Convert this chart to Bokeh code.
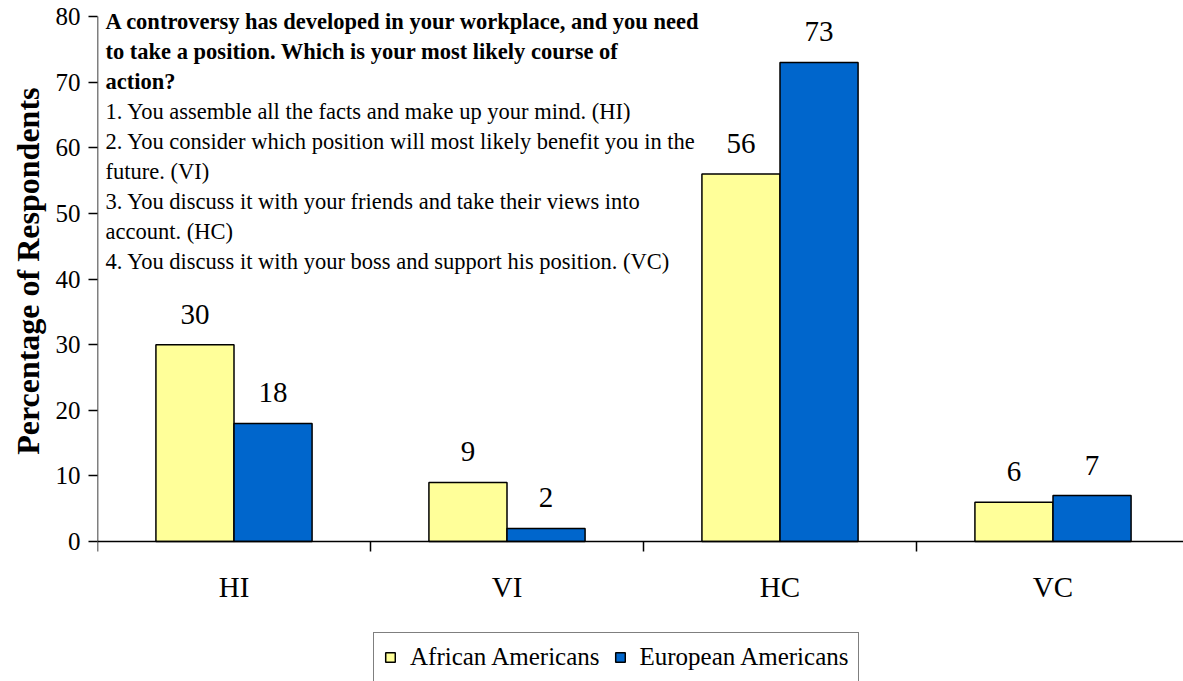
from bokeh.plotting import figure
from bokeh.models import (ColumnDataSource, Range1d, FixedTicker, Legend, LegendItem,
                          LabelSet, Label, Title)
from bokeh.transform import dodge
from bokeh.embed import file_html
from bokeh.resources import INLINE

categories = ["HI", "VI", "HC", "VC"]
african = [30, 9, 56, 6]
european = [18, 2, 73, 7]
y_ticks = [0, 10, 20, 30, 40, 50, 60, 70, 80]
series_names = ["African Americans", "European Americans"]
y_title = "Percentage of Respondents"
note_bold = [
    "A controversy has developed in your workplace, and you need",
    "to take a position. Which is your most likely course of",
    "action?",
]
note_plain = [
    "1. You assemble all the facts and make up your mind. (HI)",
    "2. You consider which position will most likely benefit you in the",
    "future. (VI)",
    "3. You discuss it with your friends and take their views into",
    "account. (HC)",
    "4. You discuss it with your boss and support his position. (VC)",
]

FONT = "Liberation Serif"
LEGEND_FONT = "'Liberation Serif', 'Times New Roman', serif"
YELLOW = "#FFFF99"
BLUE = "#0066CC"

src = ColumnDataSource(dict(
    x=list(range(len(categories))),
    af=african, eu=european,
    af_t=[str(v) for v in african],
    eu_t=[str(v) for v in european],
))

PX_PER_CAT = 273.0
PX_PER_UNIT = 525.0 / 80.0
FRAME_W = 1086
TOP_PAD = 16           # px above the 80 line (room for the note)
BOTTOM_PAD = 140       # px below the 0 line (axis labels + legend)
FRAME_H = 525 + TOP_PAD + BOTTOM_PAD
y_top = y_ticks[-1] + TOP_PAD / PX_PER_UNIT
y_bot = y_ticks[0] - BOTTOM_PAD / PX_PER_UNIT
p = figure(frame_width=FRAME_W, frame_height=FRAME_H,
           x_range=Range1d(-0.5, -0.5 + FRAME_W / PX_PER_CAT),
           y_range=Range1d(y_bot, y_top),
           output_backend="svg", toolbar_location=None,
           min_border_left=97, min_border_right=0, min_border_top=0,
           min_border_bottom=0)
p.outline_line_color = None
p.xgrid.visible = False
p.ygrid.visible = False
p.background_fill_color = "white"

# x axis drawn at y = 0: labels at category centres, ticks between categories
xa = p.xaxis[0]
xa.fixed_location = y_ticks[0]
xa.ticker = FixedTicker(ticks=list(range(len(categories))),
                        minor_ticks=[i - 0.5 for i in range(len(categories) + 1)])
xa.major_label_overrides = {i: c for i, c in enumerate(categories)}
xa.major_tick_out = 0
xa.major_tick_in = 0
xa.minor_tick_out = 10
xa.minor_tick_in = 0
xa.minor_tick_line_color = "black"
xa.minor_tick_line_width = 1.5
xa.axis_line_color = "black"
xa.axis_line_width = 1.5
xa.major_label_standoff = 19
xa.major_label_text_font = FONT
xa.major_label_text_font_size = "29px"
xa.major_label_text_color = "black"

ya = p.yaxis[0]
ya.ticker = FixedTicker(ticks=y_ticks)
ya.major_tick_out = 9
ya.major_tick_in = 0
ya.minor_tick_out = 0
ya.minor_tick_in = 0
ya.major_tick_line_color = "black"
ya.major_tick_line_width = 1.5
ya.axis_line_color = None
ya.major_label_standoff = 8
ya.major_label_text_font = FONT
ya.major_label_text_font_size = "25px"
ya.major_label_text_color = "black"

# y title placed as a left-side title so it can be centred on the 0..80 span
ytitle = Title(text=y_title, align="right", offset=87, standoff=14,
               text_font=FONT, text_font_style="bold", text_font_size="32px",
               text_color="black")
p.add_layout(ytitle, "left")

# y axis line only spans the tick range 0..80
p.segment(x0=[-0.5], y0=[y_ticks[0]], x1=[-0.5], y1=[y_ticks[-1]],
          line_color="black", line_width=1.5)

OFF = 0.143
W = 0.286
r1 = p.vbar(x=dodge("x", -OFF, range=p.x_range), top="af", width=W, bottom=0,
            source=src, fill_color=YELLOW, line_color="black", line_width=1.5)
r2 = p.vbar(x=dodge("x", OFF, range=p.x_range), top="eu", width=W, bottom=0,
            source=src, fill_color=BLUE, line_color="black", line_width=1.5)

for field, txt, off in (("af", "af_t", -OFF), ("eu", "eu_t", OFF)):
    p.add_layout(LabelSet(x=dodge("x", off, range=p.x_range), y=field, text=txt,
                          source=src, y_offset=21, text_align="center",
                          text_baseline="alphabetic", text_font=FONT,
                          text_font_size="29px", text_color="black"))

# question text block (pixel offsets from the 80 line converted to data units)
x0 = -0.5 + 8 / PX_PER_CAT
lines = [(t, "bold") for t in note_bold] + [(t, "normal") for t in note_plain]
for k, (t, style) in enumerate(lines):
    base_from_top = 5 + 30 * k
    p.add_layout(Label(x=x0, y=y_ticks[-1] - base_from_top / PX_PER_UNIT, text=t,
                       text_font=FONT, text_font_style=style,
                       text_font_size="22.5px", text_baseline="alphabetic",
                       text_align="left", text_color="black"))

legend = Legend(items=[LegendItem(label=series_names[0], renderers=[r1]),
                       LegendItem(label=series_names[1], renderers=[r2])],
                orientation="horizontal", location=(276, -1))
legend.label_text_font = LEGEND_FONT
legend.label_text_font_size = "25px"
legend.label_text_color = "black"
legend.label_height = 28
legend.glyph_width = 12
legend.glyph_height = 12
legend.label_standoff = 14
legend.spacing = 14
legend.padding = 10
legend.margin = 0
legend.border_line_color = "black"
legend.border_line_width = 1.5
legend.background_fill_alpha = 1
p.add_layout(legend)

open("out.html", "w").write(file_html(p, INLINE))
